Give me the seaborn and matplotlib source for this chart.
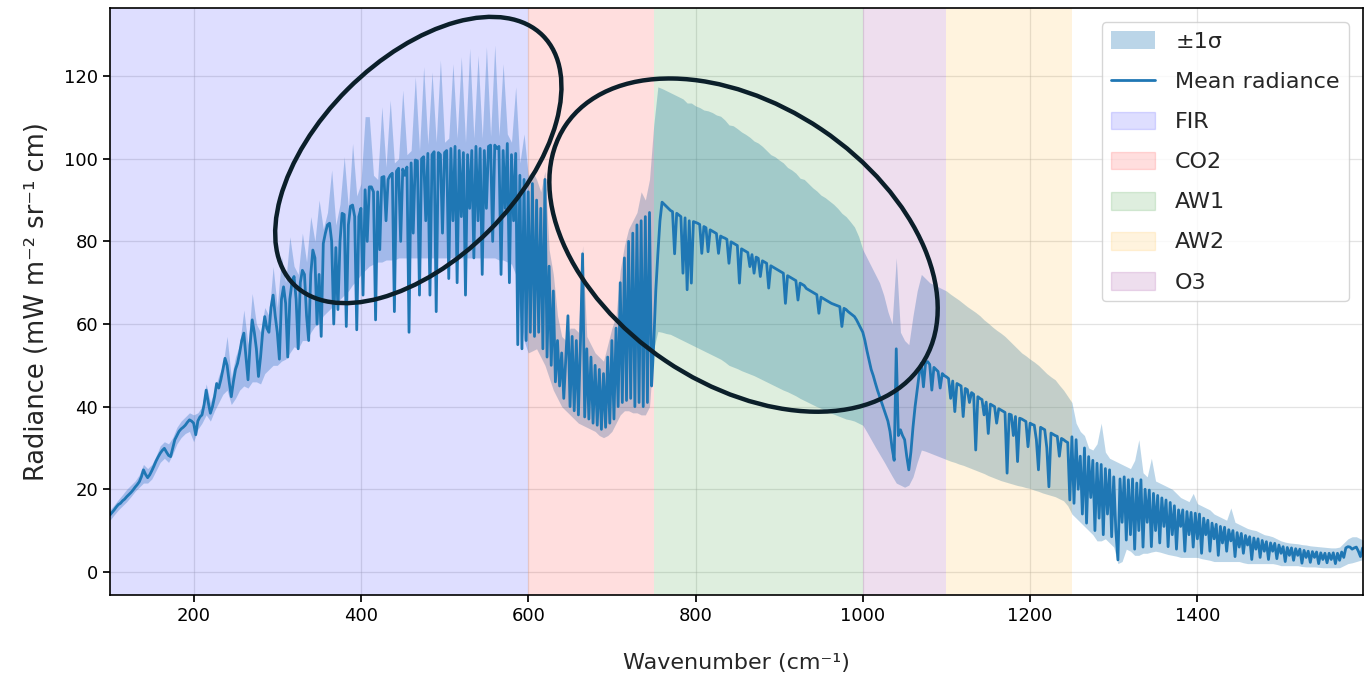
import numpy as np
import pandas as pd
import seaborn as sns
import matplotlib.pyplot as plt
from matplotlib.patches import Ellipse, Patch
from matplotlib.transforms import IdentityTransform

# mean radiance, every 2.5 cm-1 from 100 to 1600
mean_radiance = [
    13.8, 14.4, 15.0, 15.7, 16.3, 16.6, 17.2, 17.6, 18.2, 18.7, 19.2, 19.8, 20.5, 21.1, 21.8, 23.0, 24.7, 23.6, 22.8, 23.5,  # 100
    24.5, 25.6, 26.8, 27.8, 28.7, 29.4, 29.9, 29.0, 28.2, 27.9, 30.0, 32.0, 33.0, 34.0, 34.6, 35.0, 35.5, 36.2, 36.8, 36.5,  # 150
    36.0, 33.2, 36.5, 37.5, 38.0, 40.5, 44.0, 41.0, 38.4, 40.0, 42.4, 45.6, 44.5, 46.5, 49.0, 51.7, 50.0, 46.0, 42.4, 46.0,  # 200
    49.0, 50.5, 53.0, 56.0, 57.8, 52.0, 46.5, 55.0, 61.0, 58.0, 54.0, 47.3, 52.0, 58.0, 61.8, 59.0, 58.0, 64.0, 67.0, 62.0,  # 250
    58.0, 51.5, 66.0, 69.0, 65.0, 52.0, 66.0, 70.0, 71.5, 66.0, 54.0, 70.0, 73.0, 72.0, 62.0, 56.0, 72.0, 77.9, 76.0, 60.0,  # 300
    72.0, 57.0, 79.5, 82.0, 84.0, 84.4, 80.0, 60.0, 78.5, 63.5, 80.0, 86.8, 86.5, 59.4, 84.0, 88.5, 88.8, 86.0, 58.6, 86.0,  # 350
    88.0, 67.0, 92.5, 80.0, 93.2, 93.2, 92.0, 61.0, 92.0, 78.0, 95.5, 95.7, 85.0, 95.0, 96.0, 96.5, 63.0, 97.0, 97.7, 80.0,  # 400
    97.5, 96.0, 98.0, 58.0, 99.0, 82.0, 99.7, 99.5, 67.0, 100.0, 100.5, 85.0, 101.3, 67.0, 101.0, 101.7, 63.0, 101.5, 101.0, 82.0,  # 450
    101.5, 102.0, 71.0, 102.5, 85.0, 103.0, 70.0, 102.0, 86.0, 101.5, 67.0, 101.0, 88.0, 102.0, 76.0, 103.0, 85.0, 102.5, 72.0, 102.0,  # 500
    88.0, 103.0, 103.3, 80.0, 103.3, 102.5, 103.0, 72.0, 102.0, 88.0, 103.7, 70.0, 101.0, 85.0, 101.3, 55.0, 96.0, 54.0, 95.0, 56.0,  # 550
    92.0, 58.0, 94.0, 57.0, 90.0, 58.0, 88.0, 54.0, 95.0, 52.0, 74.0, 50.0, 68.0, 46.0, 56.0, 45.0, 53.0, 42.0, 52.0, 62.0,  # 600
    40.0, 57.0, 39.0, 56.0, 38.0, 56.0, 77.0, 37.5, 54.0, 37.0, 52.0, 36.0, 50.0, 35.5, 49.0, 34.5, 48.0, 35.0, 52.0, 36.0,  # 650
    56.0, 37.0, 59.0, 40.0, 70.0, 41.0, 76.0, 41.5, 80.0, 42.0, 82.0, 40.0, 84.0, 41.0, 85.0, 40.0, 86.0, 41.0, 87.0, 45.0,  # 700
    55.0, 68.0, 77.0, 85.0, 89.5, 89.0, 88.5, 88.0, 87.5, 87.2, 77.0, 86.8, 86.4, 86.0, 72.3, 85.7, 68.3, 85.0, 69.9, 84.8,  # 750
    84.6, 84.4, 84.1, 77.1, 83.6, 83.3, 77.5, 82.8, 82.5, 82.2, 81.9, 77.1, 81.3, 81.0, 80.8, 80.5, 74.7, 79.9, 79.6, 79.3,  # 800
    79.0, 69.9, 78.2, 77.9, 77.6, 77.3, 73.9, 76.8, 72.3, 76.2, 75.9, 71.5, 75.3, 75.0, 74.7, 68.7, 74.1, 73.8, 73.5, 73.2,  # 850
    72.9, 72.6, 72.3, 65.0, 71.7, 71.4, 71.1, 70.8, 70.5, 65.8, 69.9, 69.6, 69.3, 68.6, 68.3, 68.0, 67.7, 67.4, 67.1, 62.6,  # 900
    66.5, 66.2, 65.9, 65.6, 65.3, 65.0, 64.8, 64.6, 64.4, 64.2, 59.4, 63.8, 63.5, 63.0, 62.6, 62.2, 61.8, 61.0, 60.0, 59.0,  # 950
    58.0, 56.0, 53.5, 51.3, 49.0, 47.5, 45.7, 44.0, 42.5, 41.0, 39.5, 38.0, 36.5, 34.0, 30.0, 27.0, 54.0, 33.0, 34.4, 33.0,  # 1000
    32.0, 28.0, 24.7, 29.0, 35.0, 40.0, 44.0, 48.0, 50.5, 44.8, 50.5, 50.9, 50.2, 44.0, 49.5, 49.0, 48.5, 44.5, 48.0, 47.5,  # 1050
    47.2, 46.8, 42.0, 46.2, 38.8, 45.6, 45.3, 45.0, 37.6, 44.4, 44.1, 41.0, 43.4, 43.0, 29.5, 42.4, 42.0, 41.7, 38.0, 41.1,  # 1100
    33.5, 40.6, 40.3, 40.0, 36.0, 39.5, 39.2, 38.9, 38.6, 23.9, 38.2, 38.0, 33.0, 37.6, 26.7, 37.2, 37.0, 36.7, 36.4, 30.3,  # 1150
    36.0, 35.7, 35.5, 32.0, 24.7, 35.0, 34.7, 34.4, 30.0, 20.6, 33.6, 33.3, 33.0, 32.8, 28.0, 32.3, 32.0, 31.6, 31.3, 17.4,  # 1200
    32.7, 16.6, 32.0, 20.0, 28.0, 14.0, 30.0, 11.8, 27.9, 18.0, 27.0, 10.0, 26.3, 13.0, 26.0, 9.0, 25.0, 14.0, 24.7, 8.5,  # 1250
    23.0, 10.0, 2.9, 22.5, 12.0, 23.0, 7.7, 22.3, 9.0, 22.5, 5.5, 21.5, 10.0, 22.3, 6.0, 20.0, 12.0, 19.8, 6.1, 19.0,  # 1300
    10.0, 18.5, 7.0, 17.9, 11.0, 17.4, 6.1, 16.8, 9.0, 16.0, 5.5, 15.0, 11.0, 15.0, 5.0, 14.6, 9.0, 14.4, 6.0, 14.2,  # 1350
    8.0, 14.0, 4.5, 13.0, 9.0, 12.5, 5.0, 11.8, 8.0, 11.5, 4.0, 11.0, 7.0, 10.8, 5.0, 10.2, 7.5, 10.0, 3.7, 9.5,  # 1400
    6.0, 9.3, 4.5, 8.8, 6.5, 8.5, 3.0, 8.2, 5.5, 8.0, 3.5, 7.6, 5.0, 7.3, 3.0, 7.0, 5.0, 6.9, 3.2, 6.5,  # 1450
    4.5, 6.1, 2.5, 5.9, 4.0, 5.8, 2.8, 5.6, 4.0, 5.5, 2.1, 5.2, 3.5, 5.0, 2.3, 4.9, 3.5, 4.8, 2.0, 4.6,  # 1500
    3.0, 4.5, 2.2, 4.5, 3.0, 4.6, 2.0, 4.5, 2.8, 4.8, 3.5, 5.8, 6.1, 6.0, 5.5, 5.8, 6.0, 5.0, 3.7, 5.8,  # 1550
    5.5,  # 1600
]

# +/-1 sigma envelope, read every 5 cm-1 from 100 to 1600
sigma_upper = [
    15.0, 16.2, 17.5, 18.7, 20.0, 21.0, 22.0, 23.5, 26.0, 25.0,  # 100
    26.0, 28.0, 30.5, 31.5, 31.0, 32.5, 35.0, 36.5, 37.5, 38.5,
    38.0, 38.5, 40.0, 45.5, 41.0, 44.0, 47.5, 50.0, 57.0, 47.0,  # 200
    52.0, 55.0, 63.4, 55.0, 67.4, 60.0, 58.0, 64.0, 62.0, 73.9,
    64.0, 76.3, 70.0, 81.1, 74.0, 72.0, 82.0, 75.0, 86.0, 80.0,  # 300
    90.0, 83.0, 87.0, 97.3, 84.0, 89.0, 100.5, 88.0, 103.7, 91.0,
    94.0, 110.2, 110.2, 96.0, 95.0, 112.6, 98.0, 114.2, 99.0, 100.0,  # 400
    116.6, 101.0, 102.0, 119.9, 102.0, 122.3, 103.5, 121.0, 104.0, 123.9,
    104.0, 105.0, 123.0, 105.0, 124.7, 104.0, 126.7, 105.0, 125.0, 105.0,  # 500
    127.1, 105.5, 127.5, 105.5, 123.0, 106.0, 104.0, 117.4, 99.0, 106.0,
    96.0, 97.0, 95.0, 92.0, 97.0, 78.0, 72.0, 62.0, 57.0, 56.0,  # 600
    59.0, 59.0, 58.0, 79.0, 57.0, 55.0, 53.0, 52.0, 51.0, 55.0,
    59.0, 62.0, 73.0, 79.0, 83.0, 85.0, 87.0, 92.0, 90.0, 95.0,  # 700
    108.0, 117.4, 117.0, 116.5, 116.0, 115.5, 115.0, 114.5, 113.5, 113.5,
    112.8, 112.4, 111.8, 111.6, 111.2, 110.6, 110.3, 109.4, 108.2, 108.0,  # 800
    107.3, 106.5, 105.9, 105.2, 104.3, 103.8, 103.0, 102.0, 101.0, 100.5,
    99.7, 99.0, 97.9, 97.3, 96.5, 95.3, 95.0, 94.0, 93.0, 92.2,  # 900
    91.2, 90.6, 89.8, 89.0, 88.0, 86.8, 86.0, 84.8, 83.5, 81.2,
    78.0, 76.0, 74.0, 72.0, 70.0, 67.0, 63.0, 60.0, 76.0, 58.0,  # 1000
    56.0, 55.0, 62.0, 68.0, 72.0, 71.0, 70.0, 69.5, 69.0, 68.5,
    68.0, 67.2, 66.5, 65.8, 65.0, 64.2, 63.5, 62.8, 62.0, 61.0,  # 1100
    60.2, 59.3, 58.5, 57.8, 57.0, 56.0, 55.0, 54.0, 53.0, 52.3,
    51.5, 50.8, 50.0, 49.0, 48.0, 47.2, 46.5, 45.2, 44.0, 42.5,  # 1200
    41.0, 36.0, 34.0, 33.0, 30.0, 29.5, 31.0, 36.0, 29.0, 27.5,
    27.0, 26.5, 26.0, 25.5, 25.0, 27.0, 32.0, 24.0, 23.0, 27.5,  # 1300
    22.0, 21.5, 21.0, 20.5, 20.0, 19.0, 18.0, 17.5, 17.0, 19.0,
    16.5, 16.0, 15.5, 15.0, 14.0, 13.5, 13.0, 12.5, 15.5, 12.0,  # 1400
    11.5, 11.0, 10.5, 10.2, 10.0, 9.5, 9.0, 8.8, 8.5, 8.0,
    7.5, 7.2, 7.0, 6.9, 6.8, 6.6, 6.5, 6.3, 6.2, 6.1,  # 1500
    6.0, 5.9, 5.8, 5.8, 6.0, 7.0, 8.0, 8.5, 8.5, 8.0,
    7.5,  # 1600
]
sigma_lower = [
    12.5, 13.8, 15.0, 16.0, 17.0, 18.2, 19.5, 20.5, 21.5, 21.5,  # 100
    22.5, 24.5, 26.5, 27.5, 26.5, 28.5, 31.0, 32.5, 33.5, 34.0,
    31.5, 34.5, 36.0, 38.0, 36.5, 39.0, 41.0, 43.0, 44.0, 40.5,  # 200
    42.0, 44.0, 45.0, 44.5, 46.0, 46.0, 45.5, 48.0, 49.0, 50.0,
    50.0, 51.0, 51.5, 53.0, 54.5, 54.0, 56.0, 56.0, 58.0, 59.5,  # 300
    60.0, 62.0, 63.0, 64.0, 65.0, 66.0, 67.0, 68.0, 69.5, 70.5,
    72.0, 73.0, 74.0, 74.5, 75.0, 75.0, 75.5, 75.5, 75.5, 76.0,  # 400
    76.0, 76.0, 76.0, 76.0, 76.0, 76.0, 76.0, 76.0, 76.0, 76.0,
    76.0, 76.0, 76.0, 76.0, 76.0, 76.0, 76.0, 76.0, 76.0, 76.0,  # 500
    76.0, 76.0, 76.0, 75.5, 75.5, 75.0, 74.5, 72.0, 62.0, 56.0,
    53.0, 53.5, 54.0, 52.0, 50.0, 47.0, 44.0, 42.0, 40.0, 39.0,  # 600
    38.0, 37.0, 36.0, 35.5, 35.0, 34.5, 34.0, 33.0, 32.5, 33.0,
    34.0, 36.0, 38.0, 39.0, 39.0, 38.5, 38.5, 38.0, 38.0, 40.0,  # 700
    54.0, 58.2, 58.0, 57.7, 57.5, 57.0, 56.5, 56.0, 55.5, 55.0,
    54.5, 54.0, 53.5, 53.0, 52.5, 52.0, 51.5, 50.8, 50.0, 49.6,  # 800
    49.2, 48.7, 48.3, 47.9, 47.5, 47.0, 46.5, 46.0, 45.5, 45.0,
    44.5, 44.0, 43.6, 43.1, 42.6, 42.0, 41.5, 41.0, 40.5, 40.0,  # 900
    39.6, 39.1, 38.6, 38.2, 37.8, 37.4, 37.0, 36.8, 36.5, 36.0,
    35.5, 33.8, 32.0, 30.2, 28.5, 26.8, 25.0, 23.2, 21.5, 21.0,  # 1000
    20.5, 21.0, 23.0, 26.5, 29.5, 29.2, 28.8, 28.4, 28.0, 27.6,
    27.2, 26.8, 26.5, 26.1, 25.8, 25.4, 25.0, 24.6, 24.2, 23.8,  # 1100
    23.3, 22.9, 22.5, 22.1, 21.8, 21.5, 21.2, 20.9, 20.7, 20.4,
    20.2, 19.8, 19.5, 19.1, 18.8, 18.5, 18.2, 17.7, 17.2, 16.0,  # 1200
    14.0, 13.0, 12.0, 11.0, 10.0, 9.0, 7.5, 7.5, 8.0, 7.0,
    6.0, 2.0, 2.5, 5.5, 5.0, 4.0, 4.0, 4.5, 4.5, 4.8,  # 1300
    5.0, 4.8, 4.5, 4.2, 4.0, 3.8, 3.5, 3.5, 3.5, 3.5,
    3.5, 3.2, 3.0, 2.8, 2.5, 2.5, 2.5, 2.5, 2.5, 2.5,  # 1400
    2.5, 2.2, 2.0, 2.0, 2.0, 2.0, 2.0, 2.0, 2.0, 1.8,
    1.5, 1.5, 1.5, 1.5, 1.5, 1.3, 1.2, 1.2, 1.2, 1.1,  # 1500
    1.0, 1.0, 1.0, 1.0, 1.0, 1.5, 2.0, 2.2, 2.5, 2.8,
    3.0,  # 1600
]

# spectral regions
band_names = ["FIR", "CO2", "AW1", "AW2", "O3"]
band_ranges = [(100, 600), (600, 750), (750, 1000), (1100, 1250), (1000, 1100)]
band_colours = ["blue", "red", "green", "orange", "purple"]

# hand-drawn highlight ellipses (centre in data units, size in pixels)
ellipse_centres = [(468.6, 99.7), (857.4, 79.1)]
ellipse_sizes = [(352, 200), (429, 279)]
ellipse_angles = [45, -34]

line_blue = "#1f77b4"

wn_line = np.arange(100, 1600.1, 2.5)
wn_band = np.arange(100, 1601, 5)
df = pd.DataFrame({"Wavenumber": wn_line, "Radiance": mean_radiance})

sns.set_theme(style="ticks")
plt.rcParams.update({
    "font.family": ["DejaVu Sans"],
    "axes.edgecolor": "black",
    "axes.linewidth": 1.2,
    "xtick.color": "black",
    "ytick.color": "black",
    "xtick.labelsize": 13,
    "ytick.labelsize": 13,
    "xtick.major.size": 5,
    "ytick.major.size": 5,
})

fig = plt.figure(figsize=(13.65, 6.78), dpi=100)
ax = fig.add_axes([110 / 1365, 83 / 678, 1253 / 1365, 587 / 678])

sigma_fill = ax.fill_between(wn_band, sigma_lower, sigma_upper, color=line_blue, alpha=0.3, lw=0)
sns.lineplot(data=df, x="Wavenumber", y="Radiance", ax=ax, color=line_blue, lw=2.0)
mean_line = ax.lines[-1]

band_handles = []
for name, (lo, hi), col in zip(band_names, band_ranges, band_colours):
    ax.axvspan(lo, hi, color=col, alpha=0.13, lw=0)
    band_handles.append(Patch(facecolor=col, edgecolor=col, alpha=0.13, label=name))

ax.set_xlim(100, 1598)
ax.set_ylim(-5.6, 136.5)
ax.set_xticks(range(200, 1401, 200))
ax.set_yticks(range(0, 121, 20))
ax.grid(True, color="#b0b0b0", alpha=0.35, lw=0.9)
ax.set_xlabel("Wavenumber (cm⁻¹)", fontsize=16, labelpad=20)
ax.set_ylabel("Radiance (mW m⁻² sr⁻¹ cm)", fontsize=18.5, labelpad=10)

handles = [sigma_fill, mean_line] + band_handles
labels = ["±1σ", "Mean radiance"] + band_names
ax.legend(handles, labels, loc="upper right", fontsize=16, handlelength=2.0,
          handleheight=0.85, labelspacing=0.88, handletextpad=0.9,
          borderaxespad=0.65, framealpha=0.8)

for (cx, cy), (w, h), ang in zip(ellipse_centres, ellipse_sizes, ellipse_angles):
    px, py = ax.transData.transform((cx, cy))
    ax.add_patch(Ellipse((px, py), w, h, angle=ang, transform=IdentityTransform(),
                         fill=False, ec="#0b1f2a", lw=3.2, zorder=6, clip_on=False))

fig.savefig("out.png", dpi=100)
